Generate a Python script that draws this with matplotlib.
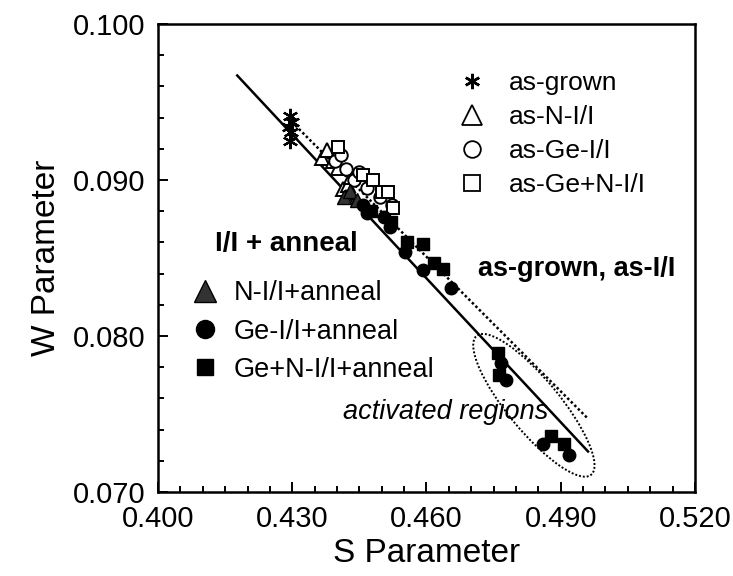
import numpy as np
import matplotlib
matplotlib.use('Agg')
import matplotlib.pyplot as plt
from matplotlib.lines import Line2D
from matplotlib.patches import Ellipse
from matplotlib.transforms import ScaledTranslation
from matplotlib.ticker import MultipleLocator, FixedLocator, FormatStrFormatter

plt.rcParams['font.family'] = ['Liberation Sans', 'DejaVu Sans']

# as-implanted / as-grown samples (open symbols)
grown_s = [0.4296, 0.4300, 0.4293, 0.4298, 0.4296]
grown_w = [0.0941, 0.0937, 0.0934, 0.0931, 0.0925]

n_ii_s = [0.4367, 0.4378, 0.4390, 0.4402, 0.4414, 0.4425, 0.4432, 0.4420]
n_ii_w = [0.0914, 0.0919, 0.0912, 0.0908, 0.0894, 0.0897, 0.0902, 0.0889]

ge_ii_s = [0.4396, 0.4410, 0.4420, 0.4437, 0.4450, 0.4468, 0.4497, 0.4524]
ge_ii_w = [0.0912, 0.0916, 0.0907, 0.0900, 0.0905, 0.0895, 0.0889, 0.0884]

gen_ii_s = [0.4403, 0.4457, 0.4480, 0.4501, 0.4513, 0.4526]
gen_ii_w = [0.0921, 0.0903, 0.0900, 0.0892, 0.0892, 0.0882]

# annealed samples (filled symbols)
n_ann_s = [0.4415, 0.4430, 0.4445]
n_ann_w = [0.0889, 0.0893, 0.0887]

ge_ann_s = [0.4459, 0.4468, 0.4504, 0.4519, 0.4553, 0.4593, 0.4654,
            0.4766, 0.4777, 0.4860, 0.4918]
ge_ann_w = [0.0884, 0.0879, 0.0876, 0.0870, 0.0854, 0.0842, 0.0831,
            0.0783, 0.0772, 0.0731, 0.0724]

gen_ann_s = [0.4475, 0.4520, 0.4557, 0.4593, 0.4616, 0.4638,
             0.4759, 0.4761, 0.4878, 0.4907]
gen_ann_w = [0.0880, 0.0873, 0.0860, 0.0859, 0.0847, 0.0843,
             0.0789, 0.0775, 0.0736, 0.0731]

# guide lines
solid_s = [0.4177, 0.4961]
solid_w = [0.0967, 0.0726]
dotted_s = [0.4307, 0.4961]
dotted_w = [0.0935, 0.0747]

# ellipse round the activated regions
ell_center = (0.4840, 0.07556)

x_ticks = [0.400, 0.430, 0.460, 0.490, 0.520]
y_ticks = [0.070, 0.080, 0.090, 0.100]

star = (6, 2, 0)

fig = plt.figure(figsize=(7.33, 5.76), dpi=100)
ax = fig.add_axes([0.2156, 0.1458, 0.7325, 0.8125])

ax.plot(solid_s, solid_w, color='black', lw=1.8, zorder=1)
ax.plot(dotted_s, dotted_w, color='black', lw=1.8, ls=(0, (1, 1)), zorder=1)

ax.plot(grown_s, grown_w, ls='none', marker=star, ms=11, mec='black', mew=1.6)
ax.plot(n_ii_s, n_ii_w, ls='none', marker='^', ms=10, mfc='white', mec='black', mew=1.4)
ax.plot(ge_ii_s, ge_ii_w, ls='none', marker='o', ms=9, mfc='white', mec='black', mew=1.4)
ax.plot(gen_ii_s, gen_ii_w, ls='none', marker='s', ms=8.5, mfc='white', mec='black', mew=1.4)
ax.plot(n_ann_s, n_ann_w, ls='none', marker='^', ms=10, color='#333333', mec='black')
ax.plot(ge_ann_s, ge_ann_w, ls='none', marker='o', ms=9, color='black')
ax.plot(gen_ann_s, gen_ann_w, ls='none', marker='s', ms=8, color='black')

ell = Ellipse((0, 0), 1.80, 0.52, angle=-50.5, fill=False, ec='black',
              lw=1.4, ls=(0, (1, 1)),
              transform=fig.dpi_scale_trans + ScaledTranslation(*ell_center, ax.transData))
ax.add_patch(ell)

ax.text(0.4873, 0.0751, 'activated regions', style='italic', fontsize=19.5,
        ha='right', va='center')
ax.text(0.4716, 0.0843, 'as-grown, as-I/I', weight='bold', fontsize=19.5,
        ha='left', va='center')
ax.text(0.4128, 0.0859, 'I/I + anneal', weight='bold', fontsize=20,
        ha='left', va='center')

ax.set_xlim(0.400, 0.520)
ax.set_ylim(0.070, 0.100)
ax.xaxis.set_major_locator(FixedLocator(x_ticks))
ax.xaxis.set_minor_locator(MultipleLocator(0.005))
ax.yaxis.set_major_locator(FixedLocator(y_ticks))
ax.yaxis.set_minor_locator(MultipleLocator(0.002))
ax.xaxis.set_major_formatter(FormatStrFormatter('%.3f'))
ax.yaxis.set_major_formatter(FormatStrFormatter('%.3f'))
ax.tick_params(which='both', direction='in', labelsize=21, width=1.4)
ax.tick_params(which='major', length=7, pad=9)
ax.tick_params(which='minor', length=4)
for sp in ax.spines.values():
    sp.set_linewidth(1.8)

ax.set_xlabel('S Parameter', fontsize=24, labelpad=4)
ax.set_ylabel('W Parameter', fontsize=24, labelpad=8)

h1 = [Line2D([], [], ls='none', marker=star, ms=11, mec='black', mew=1.8),
      Line2D([], [], ls='none', marker='^', ms=15, mfc='white', mec='black', mew=1.3),
      Line2D([], [], ls='none', marker='o', ms=12, mfc='white', mec='black', mew=1.3),
      Line2D([], [], ls='none', marker='s', ms=11, mfc='white', mec='black', mew=1.3)]
leg1 = ax.legend(h1, ['as-grown', 'as-N-I/I', 'as-Ge-I/I', 'as-Ge+N-I/I'],
                 loc='upper left', bbox_to_anchor=(0.5596, 0.90), frameon=False,
                 fontsize=19, handletextpad=0.9, labelspacing=0.38,
                 handlelength=1.0, borderaxespad=0, borderpad=0)
ax.add_artist(leg1)

h2 = [Line2D([], [], ls='none', marker='^', ms=16, color='#333333', mec='black'),
      Line2D([], [], ls='none', marker='o', ms=13, color='black'),
      Line2D([], [], ls='none', marker='s', ms=11.5, color='black')]
ax.legend(h2, ['N-I/I+anneal', 'Ge-I/I+anneal', 'Ge+N-I/I+anneal'],
          loc='upper left', bbox_to_anchor=(0.0624, 0.452), frameon=False,
          fontsize=19.5, handletextpad=0.55, labelspacing=0.45,
          handlelength=1.0, borderaxespad=0, borderpad=0)

fig.savefig('out.png', dpi=100)
